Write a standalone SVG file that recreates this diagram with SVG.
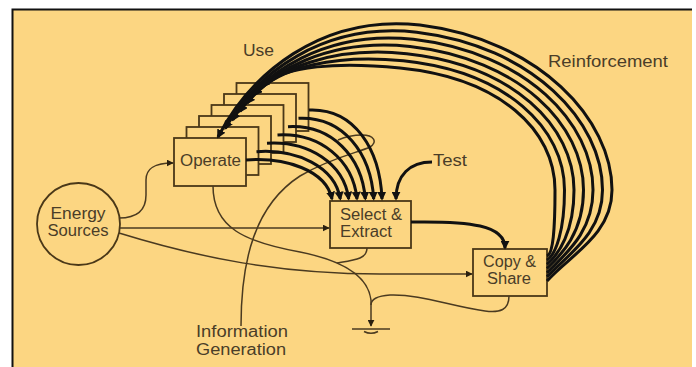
<svg xmlns="http://www.w3.org/2000/svg" width="696" height="367" viewBox="0 0 696 367">
<defs>
<style>
.bg{fill:#FCD682}
.box{fill:#FCD682;stroke:#4a3818;stroke-width:1.8}
.thin{fill:none;stroke:#4a3a20;stroke-width:1.5}
.thick{fill:none;stroke:#111;stroke-width:3}
.t{font-family:"Liberation Sans",Arial,sans-serif;font-size:16px;fill:#4a3d28}
</style>
<marker id="ah" viewBox="0 0 10 10" refX="9" refY="5" markerWidth="7" markerHeight="7" markerUnits="userSpaceOnUse" orient="auto">
<path d="M0,0 L10,5 L0,10 z" fill="#2a2010"/>
</marker>
<marker id="ab" viewBox="0 0 10 10" refX="8" refY="5" markerWidth="9" markerHeight="9" markerUnits="userSpaceOnUse" orient="auto">
<path d="M0,0 L10,5 L0,10 z" fill="#111"/>
</marker>
</defs>
<rect x="0" y="0" width="696" height="367" fill="#fff"/>
<rect class="bg" x="13" y="10" width="679" height="357"/>
<path d="M12.5,367 L12.5,9.5 L692,9.5" fill="none" stroke="#111" stroke-width="2"/>

<g id="energy">
<ellipse class="box" cx="78.5" cy="224" rx="41.5" ry="41"/>
<text class="t" x="78" y="219" text-anchor="middle" textLength="55" lengthAdjust="spacingAndGlyphs">Energy</text>
<text class="t" x="78" y="236" text-anchor="middle" textLength="61" lengthAdjust="spacingAndGlyphs">Sources</text>
</g>

<g id="operate">
<rect class="box" x="236.5" y="83" width="72" height="48"/>
<rect class="box" x="224" y="94" width="72" height="48"/>
<rect class="box" x="211.5" y="105" width="72" height="48"/>
<rect class="box" x="199" y="116" width="72" height="48"/>
<rect class="box" x="186.5" y="127" width="72" height="48"/>
<rect class="box" x="174" y="138" width="72" height="48"/>
<text class="t" x="210.5" y="166" text-anchor="middle" textLength="61" lengthAdjust="spacingAndGlyphs">Operate</text>
</g>

<g id="select">
<rect class="box" x="330" y="201" width="81" height="47"/>
<text class="t" x="340" y="220" textLength="62" lengthAdjust="spacingAndGlyphs">Select &amp;</text>
<text class="t" x="340" y="237" textLength="52" lengthAdjust="spacingAndGlyphs">Extract</text>
</g>

<g id="copy">
<rect class="box" x="473" y="249" width="74" height="47"/>
<text class="t" x="509.5" y="267" text-anchor="middle" textLength="53" lengthAdjust="spacingAndGlyphs">Copy &amp;</text>
<text class="t" x="509" y="284" text-anchor="middle" textLength="44" lengthAdjust="spacingAndGlyphs">Share</text>
</g>

<g id="ground">
<path class="thin" d="M352,329 L390,329"/>
<path class="thin" d="M364,331.5 Q371,335 378,331.5"/>
</g>

<g id="labels">
<text class="t" x="243" y="56" textLength="31" lengthAdjust="spacingAndGlyphs">Use</text>
<text class="t" x="548" y="67" textLength="120" lengthAdjust="spacingAndGlyphs">Reinforcement</text>
<text class="t" x="433" y="166" textLength="34" lengthAdjust="spacingAndGlyphs">Test</text>
<text class="t" x="196" y="337" textLength="92" lengthAdjust="spacingAndGlyphs">Information</text>
<text class="t" x="196" y="355" textLength="90" lengthAdjust="spacingAndGlyphs">Generation</text>
</g>

<g id="connectors">
<path class="thin" marker-end="url(#ah)" d="M119,218 C138,218 146,210 146,195 L146,180 C146,170 152,163 173,163"/>
<path class="thin" marker-end="url(#ah)" d="M120,228 L329,228"/>
<path class="thin" marker-end="url(#ah)" d="M119,233 C200,258 280,274 380,274 L472,274"/>
<path class="thin" d="M213,186 C213,228 245,242 300,252 C340,260 368,275 371,300"/>
<path class="thin" d="M367,248 C367,259 355,260 337,263"/>
<path class="thin" d="M509,296 C509,310 500,313 485,311 C450,306 420,294 390,295 C375,296 371,300 371,305"/>
<path class="thin" marker-end="url(#ah)" d="M371,300 L371,326"/>
<path class="thin" d="M241,326 C241,260 255,205 300,176 C330,158 360,152 370,147 C378,142 374,135 362,135 C352,135 345,137 338,140"/>
<path class="thick" marker-end="url(#ab)" d="M246,160 C285,157 326,170 332,199"/>
<path class="thick" marker-end="url(#ab)" d="M256.5,151.7 C296.7,148.8 335,166.7 340.3,199"/>
<path class="thick" marker-end="url(#ab)" d="M267,143.3 C308.3,140.7 344,163.3 348.7,199"/>
<path class="thick" marker-end="url(#ab)" d="M277.5,135 C320,132.5 353,160 357,199"/>
<path class="thick" marker-end="url(#ab)" d="M288,126.7 C331.7,124.3 362,156.7 365.3,199"/>
<path class="thick" marker-end="url(#ab)" d="M298.5,118.3 C343.3,116.2 371,153.3 373.7,199"/>
<path class="thick" marker-end="url(#ab)" d="M309,110 C355,108 380,150 382,199"/>
<path class="thick" marker-end="url(#ab)" d="M432,162 C410,162 396,175 396,199"/>
<path class="thick" marker-end="url(#ab)" d="M411,222 C470,221 505,225 505,248"/>
<path class="thick" marker-end="url(#ab)" d="M547,256 C553,254 555,230 555,190 C555,130 500,78 400,68 C340,62 285,65 262,86"/>
<path class="thick" marker-end="url(#ab)" d="M547,260.2 C555.8,254.2 564.5,230.8 564.5,190 C564.5,128.3 506.7,71.7 403.3,60.8 C336.7,54 279.2,66.7 254.7,94.5"/>
<path class="thick" marker-end="url(#ab)" d="M547,264.3 C558.7,254.3 574,231.7 574,190 C574,126.7 513.3,65.3 406.7,53.7 C333.3,46 273.3,68.3 247.3,103"/>
<path class="thick" marker-end="url(#ab)" d="M547,268.5 C561.5,254.5 583.5,232.5 583.5,190 C583.5,125 520,59 410,46.5 C330,38 267.5,70 240,111.5"/>
<path class="thick" marker-end="url(#ab)" d="M547,272.7 C564.3,254.7 593,233.3 593,190 C593,123.3 526.7,52.7 413.3,39.3 C326.7,30 261.7,71.7 232.7,120"/>
<path class="thick" marker-end="url(#ab)" d="M547,276.8 C567.2,254.8 602.5,234.2 602.5,190 C602.5,121.7 533.3,46.3 416.7,32.2 C323.3,22 255.8,73.3 225.3,128.5"/>
<path class="thick" marker-end="url(#ab)" d="M547,281 C570,255 612,235 612,190 C612,120 540,40 420,25 C320,14 250,75 218,137"/>
</g>
</svg>
